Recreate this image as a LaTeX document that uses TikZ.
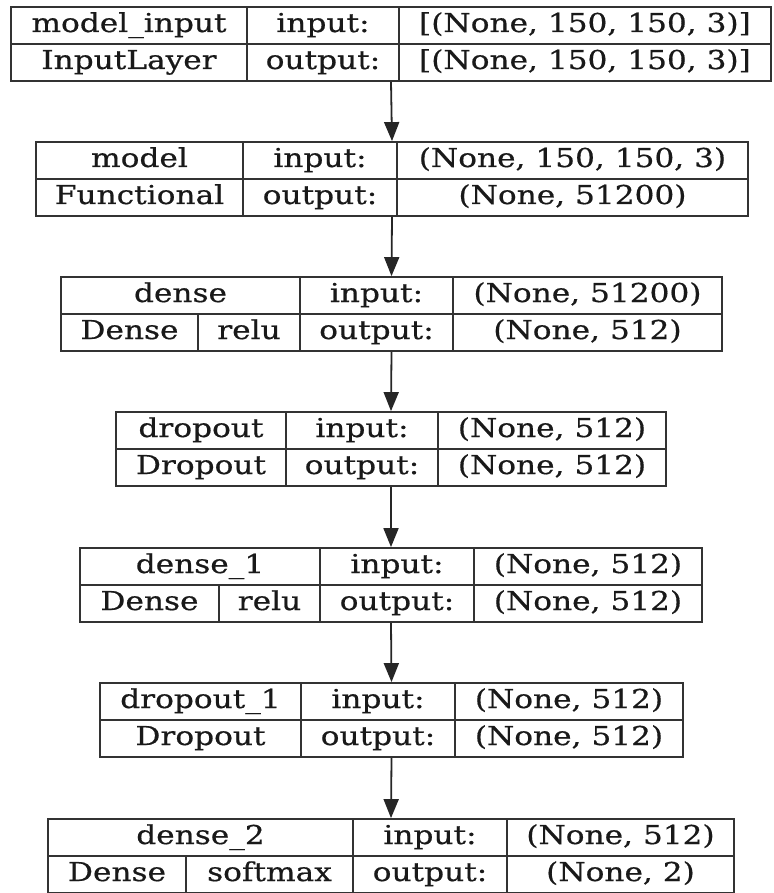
\documentclass[tikz,border=0pt]{standalone}
\usepackage{fontspec}
\setmainfont{DejaVu Serif}[FakeStretch=1.2, FakeBold=0.6]
\usetikzlibrary{arrows.meta}
\tikzset{
  layer/.style={draw=black!80, line width=1.8pt, rectangle, minimum height=74pt, inner sep=0pt},
  cell/.style={draw=black!80, line width=1.5pt, rectangle, minimum height=37pt, inner sep=0pt,
    text height=19pt, text depth=6pt, text=black!90, font=\fontsize{26}{29}\selectfont},
  flow/.style={draw=black!85, line width=1.8pt, -{Triangle[width=15pt,length=19pt]}}
}

\begin{document}
\begin{tikzpicture}[x=1pt, y=-1pt]
        \useasboundingbox (0,0) rectangle (773,893);

        % model_input
        \node[layer, minimum width=760pt] (L1) at (391,44) {};
        \node[cell, minimum width=236pt] (L1name) at (129,25.5) {model\_input};
        \node[cell, minimum width=236pt] (L1type) at (129,62.5) {InputLayer};
        \node[cell, minimum width=152pt] (L1in) at (323,25.5) {input:};
        \node[cell, minimum width=152pt] (L1out) at (323,62.5) {output:};
        \node[cell, minimum width=372pt] (L1inval) at (585,25.5) {[(None, 150, 150, 3)]};
        \node[cell, minimum width=372pt] (L1outval) at (585,62.5) {[(None, 150, 150, 3)]};

        % model
        \node[layer, minimum width=712pt] (L2) at (392,179) {};
        \node[cell, minimum width=207pt] (L2name) at (139.5,160.5) {model};
        \node[cell, minimum width=207pt] (L2type) at (139.5,197.5) {Functional};
        \node[cell, minimum width=154pt] (L2in) at (320,160.5) {input:};
        \node[cell, minimum width=154pt] (L2out) at (320,197.5) {output:};
        \node[cell, minimum width=351pt] (L2inval) at (572.5,160.5) {(None, 150, 150, 3)};
        \node[cell, minimum width=351pt] (L2outval) at (572.5,197.5) {(None, 51200)};

        % dense
        \node[layer, minimum width=661pt] (L3) at (391.5,314) {};
        \node[cell, minimum width=239pt] (L3name) at (180.5,295.5) {dense};
        \node[cell, minimum width=137pt] (L3type) at (129.5,332.5) {Dense};
        \node[cell, minimum width=102pt] (L3act) at (249,332.5) {relu};
        \node[cell, minimum width=153pt] (L3in) at (376.5,295.5) {input:};
        \node[cell, minimum width=153pt] (L3out) at (376.5,332.5) {output:};
        \node[cell, minimum width=269pt] (L3inval) at (587.5,295.5) {(None, 51200)};
        \node[cell, minimum width=269pt] (L3outval) at (587.5,332.5) {(None, 512)};

        % dropout
        \node[layer, minimum width=550pt] (L4) at (391,449) {};
        \node[cell, minimum width=170pt] (L4name) at (201,430.5) {dropout};
        \node[cell, minimum width=170pt] (L4type) at (201,467.5) {Dropout};
        \node[cell, minimum width=152pt] (L4in) at (362,430.5) {input:};
        \node[cell, minimum width=152pt] (L4out) at (362,467.5) {output:};
        \node[cell, minimum width=228pt] (L4inval) at (552,430.5) {(None, 512)};
        \node[cell, minimum width=228pt] (L4outval) at (552,467.5) {(None, 512)};

        % dense_1
        \node[layer, minimum width=622pt] (L5) at (391,585) {};
        \node[cell, minimum width=240pt] (L5name) at (200,566.5) {dense\_1};
        \node[cell, minimum width=139pt] (L5type) at (149.5,603.5) {Dense};
        \node[cell, minimum width=101pt] (L5act) at (269.5,603.5) {relu};
        \node[cell, minimum width=154pt] (L5in) at (397,566.5) {input:};
        \node[cell, minimum width=154pt] (L5out) at (397,603.5) {output:};
        \node[cell, minimum width=228pt] (L5inval) at (588,566.5) {(None, 512)};
        \node[cell, minimum width=228pt] (L5outval) at (588,603.5) {(None, 512)};

        % dropout_1
        \node[layer, minimum width=583pt] (L6) at (391.5,720) {};
        \node[cell, minimum width=201pt] (L6name) at (200.5,701.5) {dropout\_1};
        \node[cell, minimum width=201pt] (L6type) at (200.5,738.5) {Dropout};
        \node[cell, minimum width=154pt] (L6in) at (378,701.5) {input:};
        \node[cell, minimum width=154pt] (L6out) at (378,738.5) {output:};
        \node[cell, minimum width=228pt] (L6inval) at (569,701.5) {(None, 512)};
        \node[cell, minimum width=228pt] (L6outval) at (569,738.5) {(None, 512)};

        % dense_2
        \node[layer, minimum width=686pt] (L7) at (391,856) {};
        \node[cell, minimum width=305pt] (L7name) at (200.5,837.5) {dense\_2};
        \node[cell, minimum width=138pt] (L7type) at (117,874.5) {Dense};
        \node[cell, minimum width=167pt] (L7act) at (269.5,874.5) {softmax};
        \node[cell, minimum width=154pt] (L7in) at (430,837.5) {input:};
        \node[cell, minimum width=154pt] (L7out) at (430,874.5) {output:};
        \node[cell, minimum width=227pt] (L7inval) at (620.5,837.5) {(None, 512)};
        \node[cell, minimum width=227pt] (L7outval) at (620.5,874.5) {(None, 2)};

        \draw[flow] (L1.south) -- (L2.north);
        \draw[flow] (L2.south) -- (L3.north);
        \draw[flow] (L3.south) -- (L4.north);
        \draw[flow] (L4.south) -- (L5.north);
        \draw[flow] (L5.south) -- (L6.north);
        \draw[flow] (L6.south) -- (L7.north);

\end{tikzpicture}
\end{document}
